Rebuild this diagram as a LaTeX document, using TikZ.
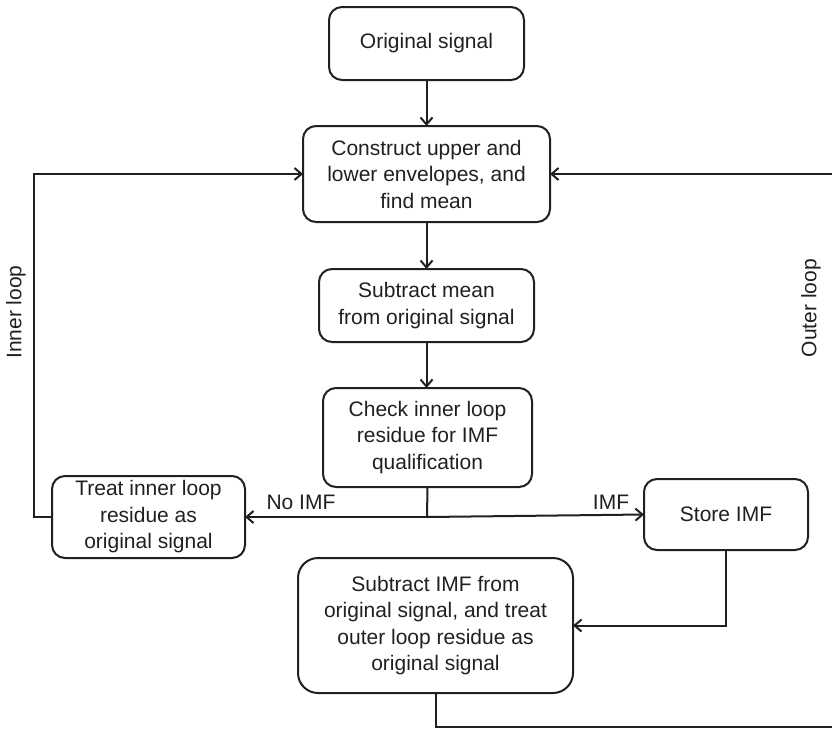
\documentclass[tikz,border=0pt]{standalone}
\usepackage{fontspec}
\setmainfont{Liberation Sans}
\usetikzlibrary{arrows.meta}
\definecolor{ink}{HTML}{231F20}
\begin{document}
\begin{tikzpicture}[x=1pt,y=-1pt,
  every node/.style={text=ink,font=\fontsize{21}{26.5}\selectfont},
  stepbox/.style={draw=ink,line width=2pt,rounded corners=13pt,align=center,
    inner sep=0pt,outer sep=0pt},
  flow/.style={draw=ink,line width=2pt,-{Straight Barb[length=7pt,width=12pt,line width=2pt]}},
  wire/.style={draw=ink,line width=2pt}]
\useasboundingbox (0,0) rectangle (832,728);

% process boxes
\node[stepbox,minimum width=195pt,minimum height=73pt] (orig) at (426.5,43.5) {Original signal};
\node[stepbox,minimum width=247pt,minimum height=96pt] (cons) at (426.5,174) {Construct upper and\\lower envelopes, and\\find mean};
\node[stepbox,minimum width=215pt,minimum height=73pt] (submean) at (426.5,305.5) {Subtract mean\\from original signal};
\node[stepbox,minimum width=209pt,minimum height=99pt] (check) at (427.5,437.5) {Check inner loop\\residue for IMF\\qualification};
\node[stepbox,minimum width=193pt,minimum height=82pt] (treat) at (148.5,517) {Treat inner loop\\residue as\\original signal};
\node[stepbox,minimum width=164pt,minimum height=71pt] (store) at (726,514.5) {Store IMF};
\node[stepbox,rounded corners=20pt,minimum width=275pt,minimum height=135pt] (subimf) at (435.5,625.5) {Subtract IMF from\\original signal, and treat\\outer loop residue as\\original signal};

% routing points
\coordinate (split) at (427,517);
\coordinate (innerturn) at (34,517);
\coordinate (outerdrop) at (435.5,727);
\coordinate (outercorner) at (840,727);

% main chain
\draw[flow] (orig) -- (cons);
\draw[flow] (cons) -- (submean);
\draw[flow] (submean.south) -- (submean.south |- check.north);

% decision branches
\draw[wire] (check.south) -- (split);
\draw[flow] (split) -- (treat.east);
\draw[flow] (split) -- (store.west);
\node at (301,502) {No IMF};
\node at (611,502) {IMF};

% inner loop
\draw[flow] (treat.west) -- (innerturn) |- (cons.west);
\node[rotate=90] at (16,312) {Inner loop};

% outer loop
\draw[flow] (store.south) |- (subimf.east);
\draw[flow] (subimf.south) -- (outerdrop) -- (outercorner) |- (cons.east);
\node[rotate=90] at (811,308) {Outer loop};
\end{tikzpicture}
\end{document}
